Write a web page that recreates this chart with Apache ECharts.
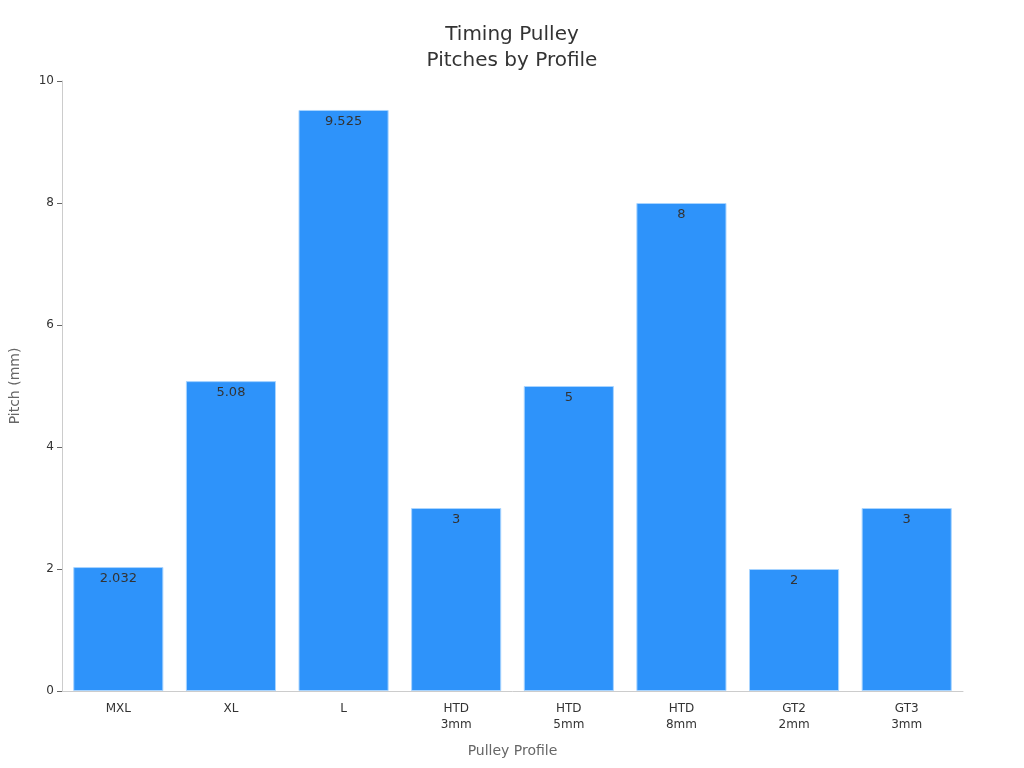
<!DOCTYPE html>
<html><head><meta charset="utf-8">
<script src="https://cdn.jsdelivr.net/npm/echarts@6/dist/echarts.min.js"></script>
<style>html,body{margin:0;padding:0;background:#fff}#c{width:1024px;height:768px}</style>
</head><body><div id="c"></div>
<script>
const categories = ["MXL", "XL", "L", "HTD\n3mm", "HTD\n5mm", "HTD\n8mm", "GT2\n2mm", "GT3\n3mm"];
const pitches = [2.032, 5.08, 9.525, 3, 5, 8, 2, 3];
const yTicks = { min: 0, max: 10, interval: 2 };

const chart = echarts.init(document.getElementById('c'), null, { renderer: 'canvas' });
chart.setOption({
  animation: false,
  textStyle: { fontFamily: 'DejaVu Sans' },
  title: {
    text: 'Timing Pulley\nPitches by Profile',
    left: 'center', top: 17,
    textStyle: { fontSize: 20, fontWeight: 'normal', color: '#333', lineHeight: 26, fontFamily: 'DejaVu Sans' }
  },
  grid: { left: 59, right: 61, top: 81, bottom: 77 },
  xAxis: {
    type: 'category', data: categories,
    name: 'Pulley Profile', nameLocation: 'middle', nameGap: 53,
    nameTextStyle: { fontSize: 14, color: '#666' },
    axisLine: { lineStyle: { color: '#ccc' } },
    axisTick: { alignWithLabel: true, lineStyle: { color: '#666' } },
    axisLabel: { fontSize: 12, color: '#333', lineHeight: 16, margin: 10 }
  },
  yAxis: {
    type: 'value', min: yTicks.min, max: yTicks.max, interval: yTicks.interval,
    name: 'Pitch (mm)', nameLocation: 'middle', nameGap: 40,
    nameTextStyle: { fontSize: 14, color: '#666' },
    axisLine: { show: true, lineStyle: { color: '#ccc' } },
    axisTick: { show: true, lineStyle: { color: '#666' } },
    axisLabel: { fontSize: 12, color: '#333' },
    splitLine: { show: false }
  },
  series: [{
    type: 'bar', data: pitches, barCategoryGap: '20%',
    itemStyle: { color: '#2e93fa', borderColor: '#a8d4ff', borderWidth: 1 },
    label: { show: true, position: 'insideTop', color: '#333', fontSize: 13, distance: 5 }
  }]
});
</script></body></html>
